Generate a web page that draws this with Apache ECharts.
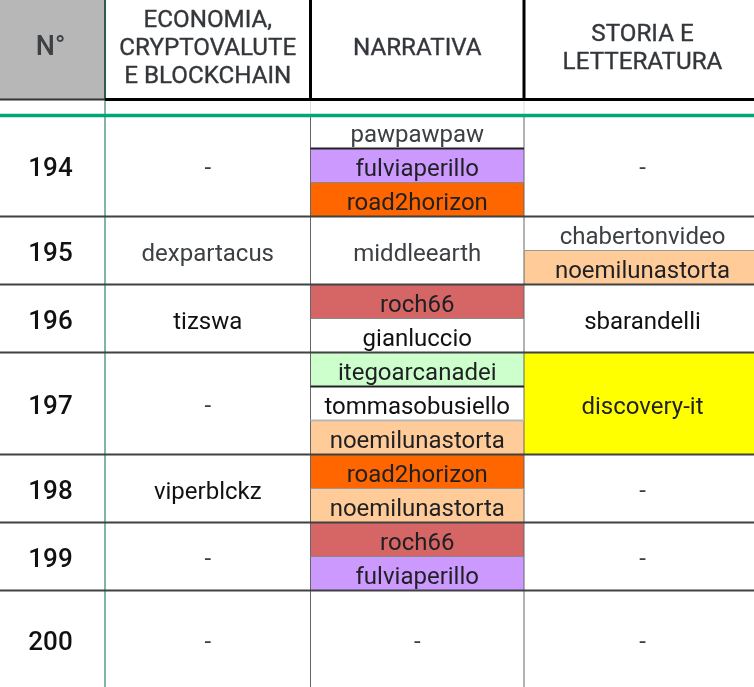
<!DOCTYPE html>
<html><head><meta charset="utf-8">
<style>html,body{margin:0;padding:0;background:#fff}#c{width:754px;height:687px}</style>
<script src="https://cdn.jsdelivr.net/npm/echarts@6/dist/echarts.min.js"></script>
</head><body><div id="c"></div>
<script>
// ---- data ----
const headers = ['N°', 'ECONOMIA,\nCRYPTOVALUTE\nE BLOCKCHAIN', 'NARRATIVA', 'STORIA E\nLETTERATURA'];
const issues = ['194', '195', '196', '197', '198', '199', '200'];
const rowSlots = [3, 2, 2, 3, 2, 2, 2.9];
const economia = [['-'], ['dexpartacus'], ['tizswa'], ['-'], ['viperblckz'], ['-'], ['-']];
const narrativa = [
  ['pawpawpaw', 'fulviaperillo', 'road2horizon'],
  ['middleearth'],
  ['roch66', 'gianluccio'],
  ['itegoarcanadei', 'tommasobusiello', 'noemilunastorta'],
  ['road2horizon', 'noemilunastorta'],
  ['roch66', 'fulviaperillo'],
  ['-']
];
const storia = [['-'], ['chabertonvideo', 'noemilunastorta'], ['sbarandelli'], ['discovery-it'], ['-'], ['-'], ['-']];

(function () {
// ---- styles / layout ----
const authorColors = {
  fulviaperillo: '#cc99ff', road2horizon: '#ff6600', noemilunastorta: '#ffcc99',
  roch66: '#d66666', itegoarcanadei: '#ccffcc', 'discovery-it': '#ffff00'
};
const darkNames = ['tommasobusiello', 'gianluccio', 'tizswa', 'sbarandelli', 'viperblckz'];
const W = 754, H = 687, ORIGIN = 114.5, SLOT = 34;
const colEdges = [0, 105, 310.5, 524, 761];
const toSlot = px => (px - ORIGIN) / SLOT;
const headTop = toSlot(-6), headBottom = toSlot(100);
const font = 'Roboto, sans-serif';

// ---- flat cell list from the arrays ----
const cells = [];
headers.forEach((t, c) => cells.push({ c, s: headTop, n: headBottom - headTop, t, kind: 'head' }));
let start = 0;
issues.forEach((num, r) => {
  cells.push({ c: 0, s: start, n: rowSlots[r], t: num, kind: 'num' });
  [economia, narrativa, storia].forEach((col, ci) => {
    const list = col[r], span = rowSlots[r] / list.length;
    list.forEach((t, i) => cells.push({ c: ci + 1, s: start + i * span, n: span, t, kind: 'name' }));
  });
  start += rowSlots[r];
});

function renderCell(params, api) {
  const cell = cells[params.dataIndex];
  const c = api.value(0);
  const p0 = api.coord([colEdges[c], api.value(1)]);
  const p1 = api.coord([colEdges[c + 1], api.value(1) + api.value(2)]);
  let fill = authorColors[cell.t] || '#ffffff';
  let style = { fontFamily: font, fontSize: 24, fill: authorColors[cell.t] ? '#1f2023' : (darkNames.includes(cell.t) ? '#111111' : '#3c4043') };
  let dx = 0, dy = cell.t === '-' ? 3 : 4;
  if (cell.kind === 'head') {
    fill = c === 0 ? '#b7b7b7' : '#ffffff';
    style = c === 0
      ? { fontFamily: font, fontSize: 27, fontWeight: 500, fill: '#3c4043' }
      : { fontFamily: font, fontSize: 24.2, fontWeight: 400, lineHeight: 28.3, fill: '#33363a', letterSpacing: -0.95, stroke: '#33363a', lineWidth: 0.35 };
    dy = c === 0 ? 1 : 2;
    dx = c === 0 ? -2 : 0;
  } else if (cell.kind === 'num') {
    style = { fontFamily: font, fontSize: 26, fontWeight: 500, fill: '#111111' };
    dy = 3.5; dx = -2;
  }
  return {
    type: 'group',
    children: [
      { type: 'rect', shape: { x: p0[0], y: p0[1], width: p1[0] - p0[0], height: p1[1] - p0[1] }, style: { fill } },
      { type: 'text', z2: 5, style: Object.assign({ text: cell.t, x: (p0[0] + p1[0]) / 2 + dx, y: (p0[1] + p1[1]) / 2 + dy, align: 'center', verticalAlign: 'middle' }, style) }
    ]
  };
}

// rules: [x0, x1, slot0, slot1, colour, width]
const rules = [];
const hline = (x0, x1, s, col, w) => rules.push([x0, x1, s, s, col, w]);
const vline = (x, s0, s1, col, w) => rules.push([x, x, s0, s1, col, w]);
const [x1, x2, x3] = [colEdges[1], colEdges[2], colEdges[3]];
const topS = toSlot(0), bottomS = toSlot(H);
// vertical rules under the header
vline(x1, toSlot(100), bottomS, '#85b5a0', 2);
vline(x2, toSlot(100), toSlot(115), '#dddddd', 1);
vline(x3, toSlot(100), toSlot(115), '#dddddd', 1);
vline(x2, toSlot(115), bottomS, '#666666', 1);
vline(x3, toSlot(115), bottomS, '#666666', 1);
// row rules
let acc = 0;
rowSlots.slice(0, -1).forEach(n => { acc += n; hline(0, W, acc, '#3f4143', 2); });
// inner rules
hline(x2, x3, 1, '#222222', 2);
hline(x2, x3, 2, '#888888', 1);
hline(x3, W, 4, '#999999', 1);
hline(x2, x3, 6, '#888888', 1);
hline(x2, x3, 8, '#222222', 2);
hline(x2, x3, 9, '#b7b7b7', 2);
hline(x2, x3, 11, '#999999', 1);
hline(x2, x3, 13, '#888888', 1);
// header rules
vline(x1, topS, toSlot(99), '#2f5a48', 2);
vline(x2, topS, toSlot(99), '#000000', 3);
vline(x3, topS, toSlot(99), '#000000', 3);
hline(0, x1, toSlot(99.5), '#333333', 2);
hline(x1, W, toSlot(99.5), '#000000', 3);
hline(0, W, toSlot(115.5), '#00a67a', 3.5);

const chart = echarts.init(document.getElementById('c'));
chart.setOption({
  animation: false,
  backgroundColor: '#ffffff',
  grid: { left: 0, right: 0, top: 0, bottom: 0 },
  xAxis: { type: 'value', min: 0, max: W, show: false },
  yAxis: { type: 'value', min: toSlot(0), max: toSlot(H), inverse: true, show: false },
  series: [
    { type: 'custom', clip: false, coordinateSystem: 'cartesian2d', z: 1, silent: true,
      renderItem: renderCell, encode: { x: 0, y: 1 },
      data: cells.map(k => [k.c, k.s, k.n]) },
    { type: 'custom', clip: false, coordinateSystem: 'cartesian2d', z: 2, silent: true,
      renderItem(params, api) {
        const r = rules[params.dataIndex];
        const a = api.coord([r[0], r[2]]), b = api.coord([r[1], r[3]]);
        return { type: 'line', shape: { x1: a[0], y1: a[1], x2: b[0], y2: b[1] }, style: { stroke: r[4], lineWidth: r[5], fill: null } };
      },
      encode: { x: 0, y: 2 },
      data: rules.map(r => r.slice(0, 4)) }
  ]
});
})();
</script></body></html>
